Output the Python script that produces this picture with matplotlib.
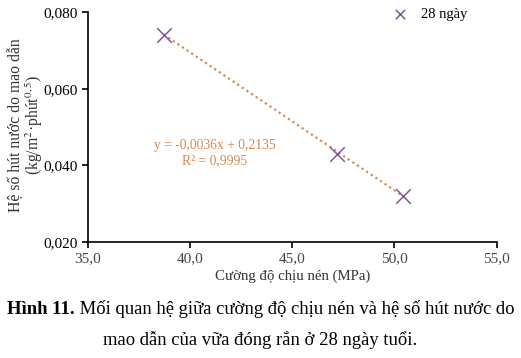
import numpy as np
import matplotlib
matplotlib.use("Agg")
import matplotlib.pyplot as plt
from matplotlib.ticker import FuncFormatter

plt.rcParams['font.family'] = ['Liberation Serif', 'DejaVu Serif']
plt.rcParams['mathtext.fontset'] = 'stix'

### Data
strength = [38.7, 47.2, 50.4]          # MPa
absorption = [0.074, 0.043, 0.032]    # kg/m2.min^0.5
series_name = '28 ngày'
slope, intercept, r2 = -0.0036, 0.2135, 0.9995

x_ticks = [35, 40, 45, 50, 55]
y_ticks = [0.020, 0.040, 0.060, 0.080]

purple = '#7f5a9e'
orange = '#d9884f'

fig = plt.figure(figsize=(5.21, 3.58), dpi=100)
ax = fig.add_axes([0.169, 0.324, 0.784, 0.642])

# trend line over the data range
xfit = np.array([min(strength), max(strength)])
ax.plot(xfit, slope * xfit + intercept, ls=(0, (1, 1.5)), lw=1.6,
        color=orange, zorder=2)
ax.scatter(strength, absorption, marker='x', s=110, lw=1.1, color=purple,
           label=series_name, zorder=3)

ax.set_xlim(35, 55)
ax.set_ylim(0.020, 0.080)
ax.set_xticks(x_ticks)
ax.set_yticks(y_ticks)
ax.xaxis.set_major_formatter(FuncFormatter(lambda v, p: f'{v:.1f}'.replace('.', ',')))
ax.yaxis.set_major_formatter(FuncFormatter(lambda v, p: f'{v:.3f}'.replace('.', ',')))
ax.tick_params(direction='out', length=4, width=1.2, labelsize=11, colors='black')
ax.tick_params(axis='x', labelcolor='#444444')
for s in ['top', 'right']:
    ax.spines[s].set_visible(False)
for s in ['left', 'bottom']:
    ax.spines[s].set_linewidth(1.2)

ax.set_xlabel('Cường độ chịu nén (MPa)', fontsize=10.7, color='#333333', labelpad=3)
ax.set_ylabel('Hệ số hút nước do mao dẫn\n(kg/m$^{2}$·phút$^{0,5}$)',
              fontsize=11.3, color='#333333', linespacing=0.95)
ax.yaxis.set_label_coords(-0.105, 0.51)

ax.text(41.2, 0.0432, 'y = -0,0036x + 0,2135\nR² = 0,9995',
        ha='center', va='center', fontsize=9.8, color=orange, linespacing=1.3)

ax.legend(loc='upper right', bbox_to_anchor=(0.96, 1.075), frameon=False,
          fontsize=10.5, handletextpad=0.4, scatterpoints=1, markerscale=0.65)

# caption: bold label + regular text
fig.canvas.draw()
r = fig.canvas.get_renderer()
bold = fig.text(0, 0.122, 'Hình 11.', fontsize=13.4, fontweight='bold')
rest = fig.text(0, 0.122, ' Mối quan hệ giữa cường độ chịu nén và hệ số hút nước do',
                fontsize=13.4)
wb = bold.get_window_extent(r).width
wr = rest.get_window_extent(r).width
W = fig.bbox.width
x0 = (W - wb - wr) / 2 / W
bold.set_x(x0)
rest.set_x(x0 + wb / W)
fig.text(0.5, 0.037, 'mao dẫn của vữa đóng rắn ở 28 ngày tuổi.', fontsize=13.4, ha='center')

fig.savefig('out.png', dpi=100)
